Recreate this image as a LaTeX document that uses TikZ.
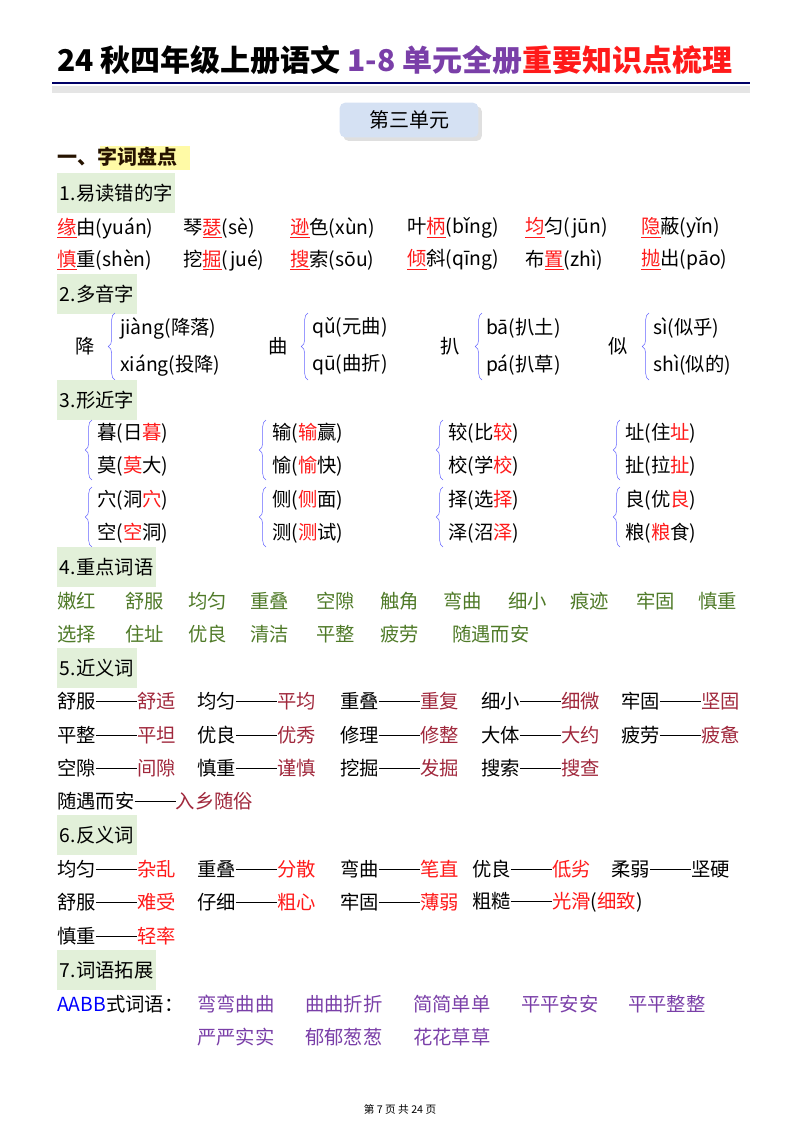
\documentclass[tikz,border=0pt]{standalone}
\usepackage{fontspec}
\setmainfont{Noto Sans CJK SC}
\usetikzlibrary{decorations.pathreplacing,shadows}
\definecolor{hdr}{HTML}{E2F0D9}
\definecolor{wgreen}{HTML}{4F7A28}
\definecolor{syn}{HTML}{A0283C}
\definecolor{purp}{HTML}{7A3FA8}
\definecolor{myred}{HTML}{FF1A1A}
\definecolor{unitbg}{HTML}{D5E1F3}
\newcommand{\rc}[1]{\textcolor{myred}{\underline{#1}}}
\newcommand{\rr}[1]{\textcolor{myred}{#1}}
\newcommand{\sy}[1]{\textcolor{syn}{#1}}
\newcommand{\dd}{\rule[0.33em]{31pt}{0.7pt}}
\tikzset{
 t/.style={anchor=west,inner sep=0pt,font=\fontsize{14.5}{16}\selectfont},
 hd/.style={anchor=west,inner sep=2pt,fill=hdr,font=\fontsize{14.5}{16}\selectfont,minimum height=30},
 br/.style={draw=blue!60,thin,decorate,decoration={brace,amplitude=5pt,mirror}},
 gw/.style={t,text=wgreen},
 pw/.style={t,text=purp}
}
\begin{document}
\begin{tikzpicture}[x=0.75pt,y=-0.75pt]
\useasboundingbox (0,0) rectangle (800,1132);
% title
\node[anchor=west,inner sep=0pt,font=\fontsize{22.5}{24}\selectfont\bfseries] (title) at (57,60) {24 秋四年级上册语文 \textcolor{purp}{1-8 单元全册}\textcolor{myred}{重要知识点梳理}};
\fill[black!10] (52,86) rectangle (750,93);
\draw[draw=blue!40!black,line width=1pt] (52,83) -- (750,83);
\node[draw=none,fill=unitbg,rounded corners=4pt,minimum width=104,minimum height=26,drop shadow={opacity=0.25},font=\fontsize{15}{16}\selectfont] (unit) at (409,120) {第三单元};
\fill[yellow!35] (100,146) rectangle (190,170);
\node[t,font=\fontsize{15}{16}\selectfont\bfseries,text=black!85!orange] (s1) at (57,157) {一、字词盘点};
% 1
\node[hd] (h1) at (57,193) {1.易读错的字};
\node[t] (a1) at (57,228) {\rc{缘}由(yuán)};
\node[t] (a2) at (183,228) {琴\rc{瑟}(sè)};
\node[t] (a3) at (290,228) {\rc{逊}色(xùn)};
\node[t] (a4) at (407,228) {叶\rc{柄}(bǐng)};
\node[t] (a5) at (525,228) {\rc{均}匀(jūn)};
\node[t] (a6) at (641,228) {\rc{隐}蔽(yǐn)};
\node[t] (b1) at (57,260) {\rc{慎}重(shèn)};
\node[t] (b2) at (183,260) {挖\rc{掘}(jué)};
\node[t] (b3) at (290,260) {\rc{搜}索(sōu)};
\node[t] (b4) at (407,260) {\rc{倾}斜(qīng)};
\node[t] (b5) at (525,260) {布\rc{置}(zhì)};
\node[t] (b6) at (641,260) {\rc{抛}出(pāo)};
% 2
\node[hd] (h2) at (57,294) {2.多音字};
\node[t] (p1) at (75,346) {降};
\draw[br] (115,313) -- (115,380);
\node[t] (p1a) at (120,328) {jiàng(降落)};
\node[t] (p1b) at (120,365) {xiáng(投降)};
\node[t] (p2) at (268,346) {曲};
\draw[br] (308,313) -- (308,380);
\node[t] (p2a) at (312,328) {qǔ(元曲)};
\node[t] (p2b) at (312,365) {qū(曲折)};
\node[t] (p3) at (440,346) {扒};
\draw[br] (482,313) -- (482,380);
\node[t] (p3a) at (486,328) {bā(扒土)};
\node[t] (p3b) at (486,365) {pá(扒草)};
\node[t] (p4) at (608,346) {似};
\draw[br] (649,313) -- (649,380);
\node[t] (p4a) at (653,328) {sì(似乎)};
\node[t] (p4b) at (653,365) {shì(似的)};
% 3
\node[hd] (h3) at (57,400) {3.形近字};
\draw[br] (92,420) -- (92,480);
\node[t] (c1a) at (97,433) {暮(日\rr{暮})};
\node[t] (c1b) at (97,466) {莫(\rr{莫}大)};
\draw[br] (266,420) -- (266,480);
\node[t] (c2a) at (272,433) {输(\rr{输}赢)};
\node[t] (c2b) at (272,466) {愉(\rr{愉}快)};
\draw[br] (443,420) -- (443,480);
\node[t] (c3a) at (448,433) {较(比\rr{较})};
\node[t] (c3b) at (448,466) {校(学\rr{校})};
\draw[br] (620,420) -- (620,480);
\node[t] (c4a) at (625,433) {址(住\rr{址})};
\node[t] (c4b) at (625,466) {扯(拉\rr{扯})};
\draw[br] (92,487) -- (92,547);
\node[t] (d1a) at (97,500) {穴(洞\rr{穴})};
\node[t] (d1b) at (97,533) {空(\rr{空}洞)};
\draw[br] (266,487) -- (266,547);
\node[t] (d2a) at (272,500) {侧(\rr{侧}面)};
\node[t] (d2b) at (272,533) {测(\rr{测}试)};
\draw[br] (443,487) -- (443,547);
\node[t] (d3a) at (448,500) {择(选\rr{择})};
\node[t] (d3b) at (448,533) {泽(沼\rr{泽})};
\draw[br] (620,487) -- (620,547);
\node[t] (d4a) at (625,500) {良(优\rr{良})};
\node[t] (d4b) at (625,533) {粮(\rr{粮}食)};
% 4
\node[hd] (h4) at (57,567) {4.重点词语};
\node[gw] (w1) at (57,601) {嫩红};
\node[gw] (w2) at (125,601) {舒服};
\node[gw] (w3) at (188,601) {均匀};
\node[gw] (w4) at (250,601) {重叠};
\node[gw] (w5) at (316,601) {空隙};
\node[gw] (w6) at (380,601) {触角};
\node[gw] (w7) at (443,601) {弯曲};
\node[gw] (w8) at (508,601) {细小};
\node[gw] (w9) at (570,601) {痕迹};
\node[gw] (w10) at (636,601) {牢固};
\node[gw] (w11) at (698,601) {慎重};
\node[gw] (v1) at (57,634) {选择};
\node[gw] (v2) at (125,634) {住址};
\node[gw] (v3) at (188,634) {优良};
\node[gw] (v4) at (250,634) {清洁};
\node[gw] (v5) at (316,634) {平整};
\node[gw] (v6) at (380,634) {疲劳};
\node[gw] (v7) at (452,634) {随遇而安};
% 5
\node[hd] (h5) at (57,668) {5.近义词};
\node[t] (e1) at (57,701) {舒服\dd\sy{舒适}};
\node[t] (e2) at (197,701) {均匀\dd\sy{平均}};
\node[t] (e3) at (340,701) {重叠\dd\sy{重复}};
\node[t] (e4) at (481,701) {细小\dd\sy{细微}};
\node[t] (e5) at (621,701) {牢固\dd\sy{坚固}};
\node[t] (f1) at (57,735) {平整\dd\sy{平坦}};
\node[t] (f2) at (197,735) {优良\dd\sy{优秀}};
\node[t] (f3) at (340,735) {修理\dd\sy{修整}};
\node[t] (f4) at (481,735) {大体\dd\sy{大约}};
\node[t] (f5) at (621,735) {疲劳\dd\sy{疲惫}};
\node[t] (g1) at (57,768) {空隙\dd\sy{间隙}};
\node[t] (g2) at (197,768) {慎重\dd\sy{谨慎}};
\node[t] (g3) at (340,768) {挖掘\dd\sy{发掘}};
\node[t] (g4) at (481,768) {搜索\dd\sy{搜查}};
\node[t] (g5) at (57,801) {随遇而安\dd\sy{入乡随俗}};
% 6
\node[hd] (h6) at (57,835) {6.反义词};
\node[t] (k1) at (57,869) {均匀\dd\rr{杂乱}};
\node[t] (k2) at (197,869) {重叠\dd\rr{分散}};
\node[t] (k3) at (340,869) {弯曲\dd\rr{笔直}};
\node[t] (k4) at (472,869) {优良\dd\rr{低劣}};
\node[t] (k5) at (611,869) {柔弱\dd 坚硬};
\node[t] (l1) at (57,902) {舒服\dd\rr{难受}};
\node[t] (l2) at (197,902) {仔细\dd\rr{粗心}};
\node[t] (l3) at (340,902) {牢固\dd\rr{薄弱}};
\node[t] (l4) at (472,902) {粗糙\dd\rr{光滑}(\rr{细致})};
\node[t] (m1) at (57,936) {慎重\dd\rr{轻率}};
% 7
\node[hd] (h7) at (57,970) {7.词语拓展};
\node[t] (n0) at (57,1004) {\textcolor{blue}{AABB}式词语：};
\node[pw] (n1) at (197,1004) {弯弯曲曲};
\node[pw] (n2) at (305,1004) {曲曲折折};
\node[pw] (n3) at (413,1004) {简简单单};
\node[pw] (n4) at (521,1004) {平平安安};
\node[pw] (n5) at (628,1004) {平平整整};
\node[pw] (o1) at (197,1037) {严严实实};
\node[pw] (o2) at (305,1037) {郁郁葱葱};
\node[pw] (o3) at (413,1037) {花花草草};
\node[inner sep=0pt,font=\fontsize{8}{9}\selectfont] (foot) at (400,1109) {第~7~页~共~24~页};
\end{tikzpicture}
\end{document}
